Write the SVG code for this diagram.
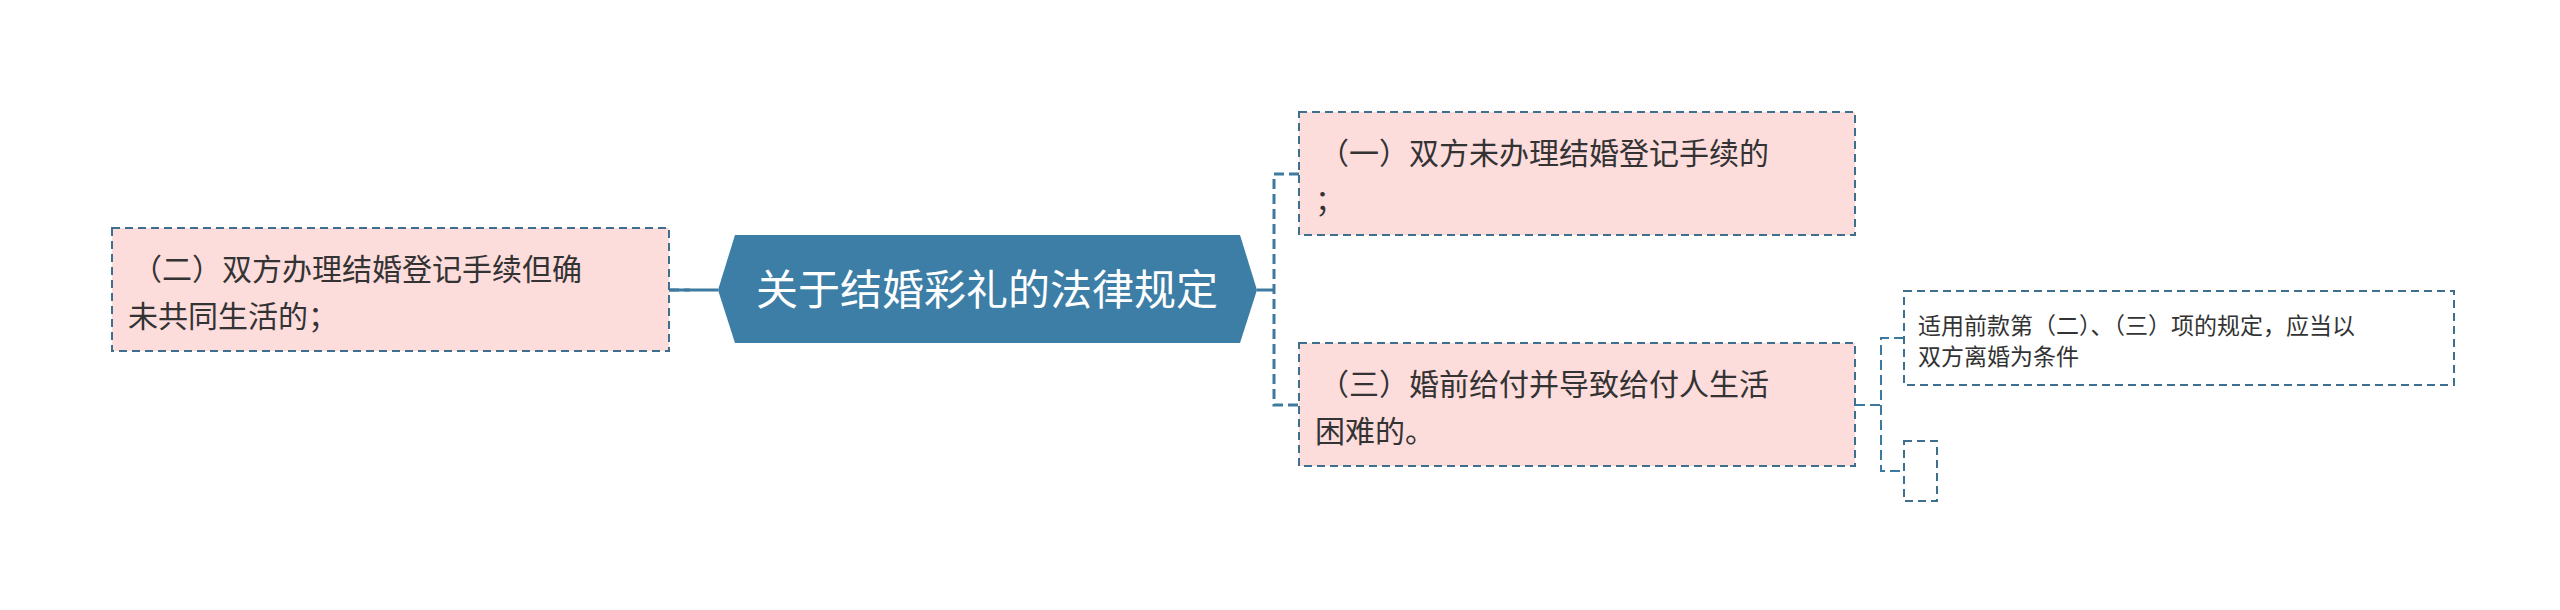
<svg xmlns="http://www.w3.org/2000/svg" width="2560" height="610" viewBox="0 0 2560 610">
<style>
.box{fill:#fddcdc;stroke:#3e6f8f;stroke-width:2;stroke-dasharray:8 5}
.wbox{fill:#fff;stroke:#3e6f8f;stroke-width:2;stroke-dasharray:8 5}
.t{font-family:"Noto Sans CJK SC","Noto Sans",sans-serif;fill:#333;font-size:30px}
.s{font-family:"Noto Sans CJK SC","Noto Sans",sans-serif;fill:#333;font-size:23px}
.c{fill:none;stroke:#3e7aa0;stroke-width:3;stroke-dasharray:10 5}
</style>
<rect width="2560" height="610" fill="#fff"/>
<g id="connectors">
<path class="c" d="M669 290H718" style="stroke-dasharray:none"/>
<path class="c" d="M669 290H690"/>
<path class="c" d="M1257 290H1274" style="stroke-dasharray:none"/>
<path class="c" d="M1299 174H1274V405H1299"/>
<path class="c" d="M1855 405H1881M1904 338H1881V471H1904" style="stroke-width:2"/>
</g>
<g id="root">
<polygon points="735,235 1240,235 1257,290 1240,343 735,343 718,290" fill="#3c7ea6"/>
<text x="987" y="305" text-anchor="middle" font-family="Noto Sans CJK SC,sans-serif" font-size="42" fill="#fff">关于结婚彩礼的法律规定</text>
</g>
<g id="n2">
<rect class="box" x="112" y="228" width="557" height="123"/>
<text class="t" x="132" y="280">（二）双方办理结婚登记手续但确</text>
<text class="t" x="128" y="327">未共同生活的；</text>
</g>
<g id="n1">
<rect class="box" x="1299" y="112" width="556" height="123"/>
<text class="t" x="1319" y="164">（一）双方未办理结婚登记手续的</text>
<text class="t" x="1315" y="211">；</text>
</g>
<g id="n3">
<rect class="box" x="1299" y="343" width="556" height="123"/>
<text class="t" x="1319" y="395">（三）婚前给付并导致给付人生活</text>
<text class="t" x="1315" y="442">困难的。</text>
</g>
<g id="c1">
<rect class="wbox" x="1904" y="291" width="550" height="94"/>
<text class="s" x="1918" y="334">适用前款第（二）、（三）项的规定，应当以</text>
<text class="s" x="1918" y="365">双方离婚为条件</text>
</g>
<g id="c2">
<rect class="wbox" x="1904" y="441" width="33" height="60"/>
</g>
</svg>
